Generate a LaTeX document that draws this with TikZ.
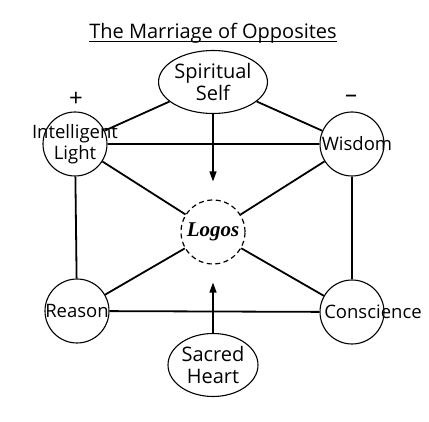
\documentclass[tikz,border=0pt]{standalone}
\usepackage{fontspec}
\setmainfont{Open Sans}
\newfontfamily\logosfont{Liberation Serif}
\usetikzlibrary{arrows.meta,shapes.geometric}
\newcommand\diagfont{\fontsize{18.5}{21.5}\selectfont}
\newcommand\ovalfont{\fontsize{20}{22}\selectfont}

\begin{document}
\begin{tikzpicture}[x=1pt,y=1pt,>={Triangle[length=10pt,width=7pt]},
ball/.style={draw,circle,minimum size=64pt,inner sep=0pt,line width=1.1pt},
oval/.style={draw,ellipse,minimum width=90pt,minimum height=63pt,inner sep=0pt,line width=1.1pt,align=center,font=\ovalfont},
lab/.style={align=center,font=\diagfont},
link/.style={line width=1.8pt},
flow/.style={->,line width=1.3pt,shorten >=18pt}]
\useasboundingbox (0,0) rectangle (429,-422);
% title
\node[font=\fontsize{20}{24}\selectfont,inner sep=0pt,anchor=base] (title) at (213,-39) {The Marriage of Opposites};
\draw[line width=0.9pt] ([yshift=-2pt]title.base west) -- ([yshift=-2pt]title.base east);
% the six corners and the centre
\node[oval] (spirit) at (213,-82) {Spiritual\\Self};
\node[ball,label={[lab]center:{Intelligent\\Light}}] (light) at (75,-144) {};
\node[ball,label={[lab,xshift=5pt]center:Wisdom}] (wisdom) at (352,-144) {};
\node[ball,dash pattern=on 5pt off 3.5pt,line width=1.2pt,font=\logosfont\fontsize{21}{26}\selectfont\bfseries\itshape] (logos) at (213,-232) {Logos};
\node[ball,label={[lab]center:Reason}] (reason) at (77,-311) {};
\node[ball,label={[lab,xshift=21pt]center:Conscience}] (conscience) at (352,-312) {};
\node[oval] (heart) at (213,-365) {Sacred\\Heart};
\node[font=\fontsize{24}{24}\selectfont] (plus) at (76,-99) {+};
\node[font=\fontsize{24}{24}\selectfont] (minus) at (351,-99) {--};
% connectors
\draw[link] (spirit) -- (light);
\draw[link] (spirit) -- (wisdom);
\draw[link] (light) -- (wisdom);
\draw[link] (light) -- (reason);
\draw[link] (wisdom) -- (conscience);
\draw[link] (reason) -- (conscience);
\draw[link] (light) -- (logos);
\draw[link] (wisdom) -- (logos);
\draw[link] (reason) -- (logos);
\draw[link] (conscience) -- (logos);
\draw[flow] (spirit) -- (logos);
\draw[flow] (heart) -- (logos);
\end{tikzpicture}
\end{document}
